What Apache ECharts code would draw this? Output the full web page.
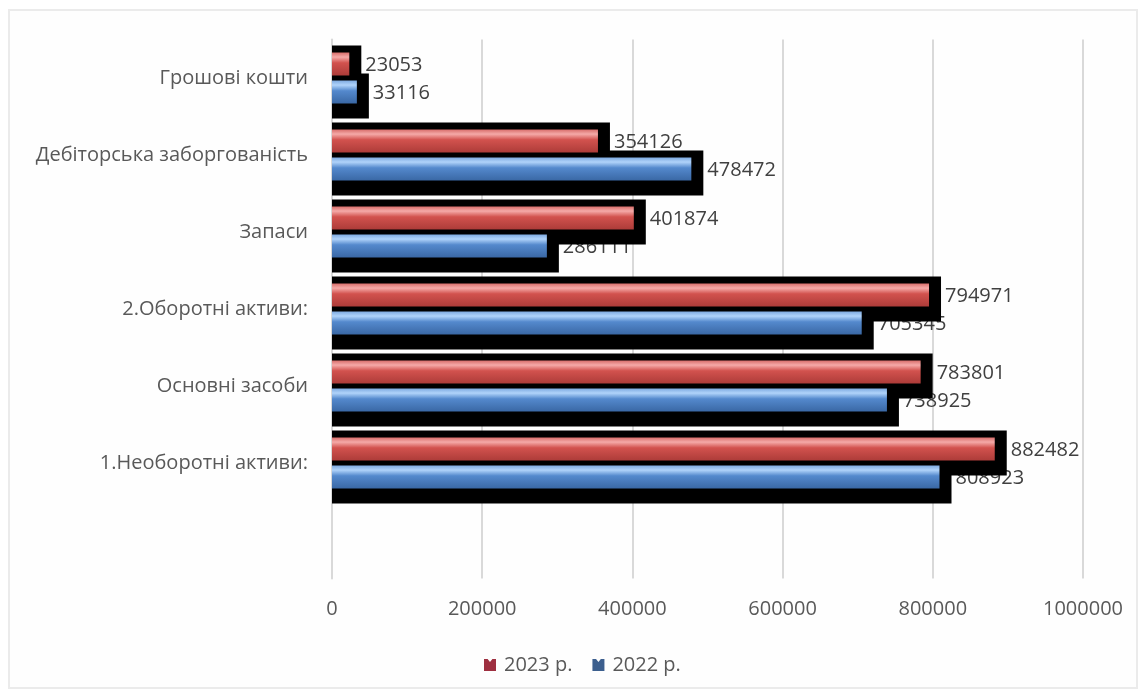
<!DOCTYPE html>
<html>
<head>
<meta charset="utf-8">
<script src="https://cdn.jsdelivr.net/npm/echarts@6/dist/echarts.min.js"></script>
<style>
html,body{margin:0;padding:0;background:#fff;}
#chart{width:1144px;height:693px;}
</style>
</head>
<body>
<div id="chart"></div>
<script>
const categories = ['Грошові кошти', 'Дебіторська заборгованість', 'Запаси', '2.Оборотні активи:', 'Основні засоби', '1.Необоротні активи:'];
const values2023 = [23053, 354126, 401874, 794971, 783801, 882482];
const values2022 = [33116, 478472, 286111, 705345, 738925, 808923];
const seriesNames = ['2023 р.', '2022 р.'];

const BAR_W = 23, GAP = 5;

const shadowData = [];
values2023.forEach((v, i) => shadowData.push([v, i, 0]));
values2022.forEach((v, i) => shadowData.push([v, i, 1]));

const redGrad = new echarts.graphic.LinearGradient(0, 0, 0, 1, [
  {offset: 0, color: '#d86e6b'}, {offset: 0.2, color: '#f5aaa8'},
  {offset: 0.45, color: '#d2524e'}, {offset: 1, color: '#ad3c39'}]);
const blueGrad = new echarts.graphic.LinearGradient(0, 0, 0, 1, [
  {offset: 0, color: '#7eaae0'}, {offset: 0.2, color: '#b0d3fa'},
  {offset: 0.45, color: '#5489cd'}, {offset: 1, color: '#3a68a5'}]);

const chart = echarts.init(document.getElementById('chart'));
chart.setOption({
  backgroundColor: '#ffffff',
  animation: false,
  graphic: [{
    type: 'rect', left: 8, top: 9, z: -10,
    shape: {width: 1128, height: 678},
    style: {fill: '#fefefe', stroke: '#ebebeb', lineWidth: 2}
  }],
  grid: {left: 332, right: 61, top: 39.5, bottom: 114.5},
  legend: {
    top: 650, left: 479,
    itemWidth: 12, itemHeight: 12, itemGap: 20,
    icon: 'path://M0,0 L3,0 L5,2.6 L7,0 L10,0 L10,10 L0,10 Z',
    data: [
      {name: seriesNames[0], itemStyle: {color: '#9e2f40'}},
      {name: seriesNames[1], itemStyle: {color: '#3c5f8e'}}
    ],
    textStyle: {fontFamily: 'Open Sans', fontSize: 20, color: '#595959', padding: [0, 0, 0, 3]}
  },
  xAxis: {
    type: 'value', min: 0, max: 1000000, interval: 200000,
    axisLine: {show: false}, axisTick: {show: false},
    splitLine: {lineStyle: {color: '#d9d9d9', width: 2}},
    axisLabel: {
      margin: 21, color: '#595959', fontSize: 20, fontFamily: 'Open Sans',
      formatter: v => String(v)
    }
  },
  yAxis: {
    type: 'category', inverse: true, data: categories, max: 6,
    axisLine: {show: true, lineStyle: {color: '#d9d9d9', width: 2}},
    axisTick: {show: false},
    axisLabel: {
      margin: 24, color: '#595959', fontSize: 20, fontFamily: 'Open Sans',
      formatter: v => (categories.indexOf(v) >= 0 ? v : '')
    }
  },
  series: [
    {
      type: 'custom', z: 2, silent: true,
      data: shadowData,
      encode: {x: 0, y: 1},
      renderItem: (params, api) => {
        const val = api.value(0), ci = api.value(1), si = api.value(2);
        const c0 = api.coord([0, ci]);
        const c1 = api.coord([val, ci]);
        const top = si === 0 ? c0[1] - BAR_W - GAP / 2 : c0[1] + GAP / 2;
        const bottom = top + BAR_W;
        return {
          type: 'group',
          children: [
            {
              type: 'text', z2: 0,
              style: {
                x: c1[0] + 16, y: (top + bottom) / 2 + 1,
                text: String(val), fill: '#404040',
                font: '20px "Open Sans"', verticalAlign: 'middle', align: 'left'
              }
            },
            {
              type: 'rect', z2: 5,
              shape: {x: c0[0], y: top - 7, width: c1[0] - c0[0] + 12, height: BAR_W + 22},
              style: {fill: '#000000'}
            }
          ]
        };
      }
    },
    {
      name: seriesNames[0], type: 'bar', z: 3,
      data: values2023, barWidth: BAR_W, barGap: (GAP / BAR_W * 100) + '%',
      itemStyle: {color: redGrad}
    },
    {
      name: seriesNames[1], type: 'bar', z: 3,
      data: values2022, barWidth: BAR_W, barGap: (GAP / BAR_W * 100) + '%',
      itemStyle: {color: blueGrad}
    }
  ]
});
</script>
</body>
</html>
